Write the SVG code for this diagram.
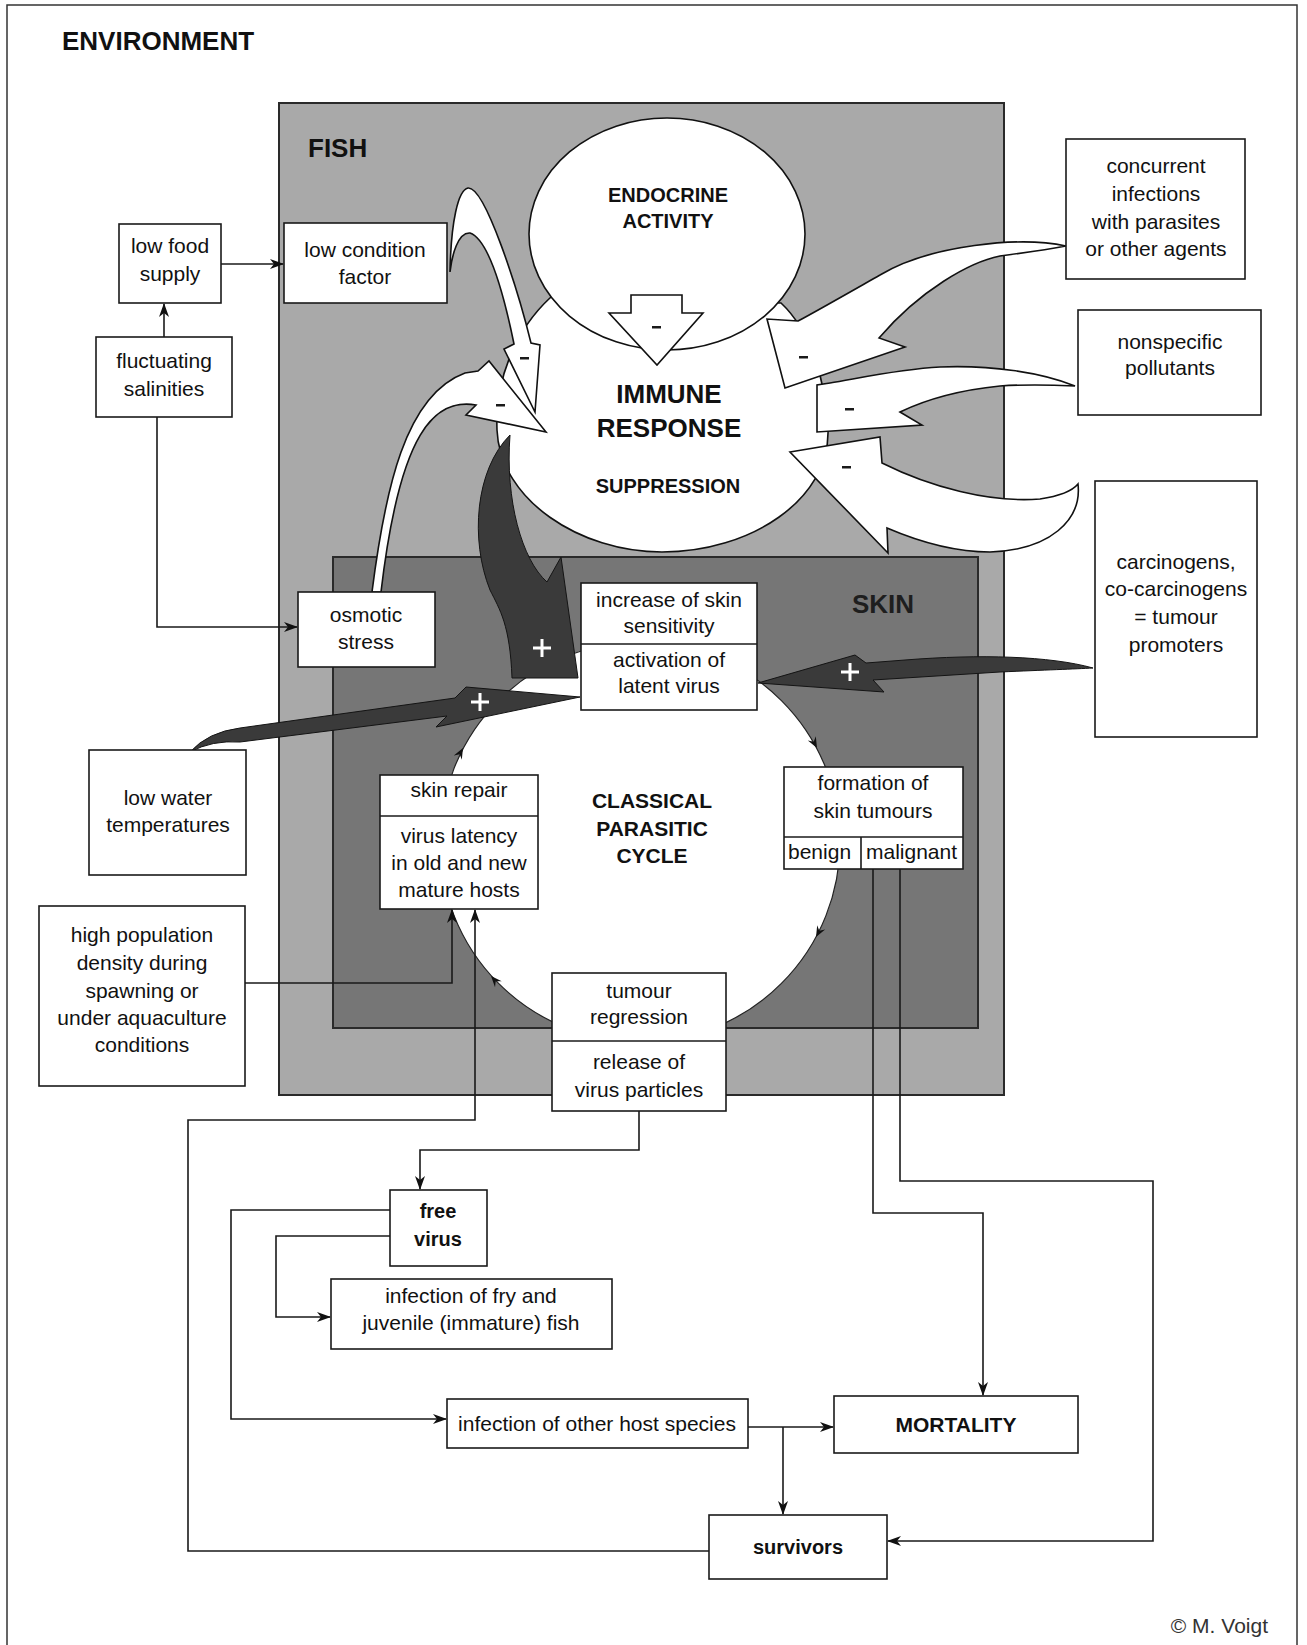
<svg xmlns="http://www.w3.org/2000/svg" width="1307" height="1645" viewBox="0 0 1307 1645">
<defs>
<style>
.box{fill:#fff;stroke:#1a1a1a;stroke-width:1.6}
.t{font-family:"Liberation Sans",Arial,Helvetica,sans-serif;font-size:21px;fill:#111;text-anchor:middle}
.b{font-family:"Liberation Sans",Arial,Helvetica,sans-serif;font-weight:bold;fill:#111;text-anchor:middle}
.wa{fill:#fff;stroke:#111;stroke-width:1.6;stroke-linejoin:miter}
.da{fill:#3a3a3a;stroke:#141414;stroke-width:1}
.ln{fill:none;stroke:#1a1a1a;stroke-width:1.6}
.ln2{fill:none;stroke:#1a1a1a;stroke-width:1.6;marker-end:url(#ah)}
.minus{fill:#1a1a1a}
.plus{stroke:#fff;stroke-width:3;fill:none}
.cyc{fill:#111}
</style>
<marker id="ah" viewBox="0 0 14 10" refX="13" refY="5" markerWidth="14" markerHeight="10" markerUnits="userSpaceOnUse" orient="auto"><path d="M0,0 L14,5 L0,10 L4,5 Z" fill="#111"/></marker>
</defs>
<rect width="1307" height="1645" fill="#fff"/>

<g id="environment">
<rect x="7" y="5" width="1290" height="1660" fill="none" stroke="#333" stroke-width="1.5"/>
<text x="62" y="50" class="b" font-size="26" style="text-anchor:start">ENVIRONMENT</text>
</g>

<g id="fish">
<rect x="279" y="103" width="725" height="992" fill="#a9a9a9" stroke="#2a2a2a" stroke-width="2"/>
<text x="308" y="157" class="b" font-size="26" style="text-anchor:start">FISH</text>
</g>

<g id="immune-response">
<path d="M551 297 C515 330 495 380 497 430 C500 500 580 552 662 552 C750 552 830 500 828 430 C826 380 810 330 781 303 Z" fill="#fff" stroke="#111" stroke-width="1.6"/>
</g>

<g id="endocrine-activity">
<ellipse cx="667" cy="234" rx="138" ry="116" fill="#fff" stroke="#111" stroke-width="1.6"/>
<text class="b" font-size="20" x="668" y="202">ENDOCRINE</text>
<text class="b" font-size="20" x="668" y="228">ACTIVITY</text>
</g>

<g id="skin">
<rect x="333" y="557" width="645" height="471" fill="#767676" stroke="#2a2a2a" stroke-width="2"/>
<text x="852" y="613" class="b" font-size="26" style="text-anchor:start;fill:#1e1e1e">SKIN</text>
</g>

<g id="classical-parasitic-cycle">
<circle cx="640" cy="842" r="200" fill="#fff" stroke="#222" stroke-width="1.2"/>
<text class="b" font-size="21" x="652" y="808">CLASSICAL</text>
<text class="b" font-size="21" x="652" y="836">PARASITIC</text>
<text class="b" font-size="21" x="652" y="863">CYCLE</text>
<path class="cyc" d="M0,0 L-11,-4.5 L-7,0 L-11,4.5 Z" transform="translate(463,748) rotate(-62)"/>
<path class="cyc" d="M0,0 L-11,-4.5 L-7,0 L-11,4.5 Z" transform="translate(817,748) rotate(62)"/>
<path class="cyc" d="M0,0 L-11,-4.5 L-7,0 L-11,4.5 Z" transform="translate(816,937) rotate(118)"/>
<path class="cyc" d="M0,0 L-11,-4.5 L-7,0 L-11,4.5 Z" transform="translate(491,976) rotate(228)"/>
</g>

<g id="influence-arrows">
<!-- endocrine -> immune -->
<path class="wa" d="M631 295 L682 295 L682 313 L703 313 L657 365 L609 313 L631 313 Z"/>
<rect class="minus" x="652" y="326" width="9" height="2.5"/>
<!-- osmotic stress -> immune -->
<path class="wa" d="M372 592 C385 490 405 395 465 373 L478 371 L489 361 L546 432 L466 415 L476 405 C435 398 400 430 381 592 Z"/>
<rect class="minus" x="496" y="404" width="9" height="2.5"/>
<!-- low condition factor -> immune -->
<path class="wa" d="M450 272 C451 222 458 190 468 188 C485 186 518 290 531 343 L540 345 L535 412 L504 349 L514 344 C505 300 490 240 470 233 C458 232 452 255 450 272 Z"/>
<rect class="minus" x="520" y="357" width="9" height="2.5"/>
<!-- concurrent infections -> immune -->
<path class="wa" d="M1066 246 C1020 236 930 245 880 275 C850 292 815 312 798 321 L767 319 L785 388 L905 347 L879 338 C920 290 970 262 1000 256 C1030 252 1050 249 1066 246 Z"/>
<rect class="minus" x="799" y="356" width="9" height="2.5"/>
<!-- nonspecific pollutants -> immune -->
<path class="wa" d="M1075 386 C1040 372 990 365 940 367 C900 369 860 378 830 383 L817 385 L817 432 L922 425 L900 412 C925 400 960 390 1000 386 C1030 384 1055 385 1075 386 Z"/>
<rect class="minus" x="845" y="408" width="9" height="2.5"/>
<!-- lower right -> immune -->
<path class="wa" d="M1078 484 C1082 520 1050 550 990 552 C950 552 915 540 887 528 L888 553 L790 452 L880 437 L882 463 C930 487 990 503 1040 499 C1060 496 1073 490 1078 484 Z"/>
<rect class="minus" x="842" y="466" width="9" height="2.5"/>
<!-- immune suppression -> activation (+) -->
<path class="da" d="M510 435 C475 470 470 540 490 590 C500 610 510 625 512 678 L578 678 L561 557 L547 582 C522 560 505 500 510 435 Z"/>
<path class="plus" d="M533 648 H551 M542 639 V657"/>
<!-- low water temperatures -> activation (+) -->
<path class="da" d="M190 752 Q208 732 240 728 L455 698 L466 687 L580 697 L436 727 L447 716 L240 742 Q212 740 190 752 Z"/>
<path class="plus" d="M471 702 H489 M480 693 V711"/>
<!-- carcinogens -> activation (+) -->
<path class="da" d="M1093 668 C1050 656 980 654 905 660 L866 663 L855 655 L758 683 L884 692 L873 680 L1000 672 C1045 670 1075 669 1093 668 Z"/>
<path class="plus" d="M841 672 H859 M850 663 V681"/>
</g>

<g id="connectors">
<path class="ln2" d="M164 337 V304"/>
<path class="ln2" d="M221 264 H283"/>
<path class="ln2" d="M157 417 V627 H297"/>
<path class="ln2" d="M245 983 H452 V910"/>
<path class="ln2" d="M709 1551 H188 V1120 H475 V910"/>
<path class="ln2" d="M639 1111 V1150 H420 V1189"/>
<path class="ln2" d="M390 1210 H231 V1419 H446"/>
<path class="ln2" d="M390 1236 H276 V1317 H330"/>
<path class="ln2" d="M748 1427 H833"/>
<path class="ln2" d="M783 1427 V1514"/>
<path class="ln2" d="M873 869 V1213 H983 V1395"/>
<path class="ln2" d="M900 869 V1181 H1153 V1541 H888"/>
</g>

<g id="immune-labels">
<text class="b" font-size="26" x="669" y="403">IMMUNE</text>
<text class="b" font-size="26" x="669" y="437">RESPONSE</text>
<text class="b" font-size="20" x="668" y="493">SUPPRESSION</text>
</g>

<g id="low-food-supply">
<rect class="box" x="119" y="224" width="102" height="79"/>
<text class="t" x="170" y="253">low food</text>
<text class="t" x="170" y="281">supply</text>
</g>
<g id="low-condition-factor">
<rect class="box" x="284" y="223" width="163" height="80"/>
<text class="t" x="365" y="257">low condition</text>
<text class="t" x="365" y="284">factor</text>
</g>
<g id="fluctuating-salinities">
<rect class="box" x="96" y="337" width="136" height="80"/>
<text class="t" x="164" y="368">fluctuating</text>
<text class="t" x="164" y="396">salinities</text>
</g>
<g id="osmotic-stress">
<rect class="box" x="298" y="592" width="137" height="75"/>
<text class="t" x="366" y="622">osmotic</text>
<text class="t" x="366" y="649">stress</text>
</g>
<g id="concurrent-infections">
<rect class="box" x="1066" y="139" width="179" height="140"/>
<text class="t" x="1156" y="173">concurrent</text>
<text class="t" x="1156" y="201">infections</text>
<text class="t" x="1156" y="229">with parasites</text>
<text class="t" x="1156" y="256">or other agents</text>
</g>
<g id="nonspecific-pollutants">
<rect class="box" x="1078" y="310" width="183" height="105"/>
<text class="t" x="1170" y="349">nonspecific</text>
<text class="t" x="1170" y="375">pollutants</text>
</g>
<g id="carcinogens">
<rect class="box" x="1095" y="481" width="162" height="256"/>
<text class="t" x="1176" y="569">carcinogens,</text>
<text class="t" x="1176" y="596">co-carcinogens</text>
<text class="t" x="1176" y="624">= tumour</text>
<text class="t" x="1176" y="652">promoters</text>
</g>
<g id="skin-sensitivity-activation">
<rect class="box" x="581" y="583" width="176" height="127"/>
<line class="ln" x1="581" y1="644" x2="757" y2="644"/>
<text class="t" x="669" y="607">increase of skin</text>
<text class="t" x="669" y="633">sensitivity</text>
<text class="t" x="669" y="667">activation of</text>
<text class="t" x="669" y="693">latent virus</text>
</g>
<g id="low-water-temperatures">
<rect class="box" x="89" y="750" width="157" height="125"/>
<text class="t" x="168" y="805">low water</text>
<text class="t" x="168" y="832">temperatures</text>
</g>
<g id="high-population-density">
<rect class="box" x="39" y="906" width="206" height="180"/>
<text class="t" x="142" y="942">high population</text>
<text class="t" x="142" y="970">density during</text>
<text class="t" x="142" y="998">spawning or</text>
<text class="t" x="142" y="1025">under aquaculture</text>
<text class="t" x="142" y="1052">conditions</text>
</g>
<g id="skin-repair-latency">
<rect class="box" x="380" y="775" width="158" height="134"/>
<line class="ln" x1="380" y1="816" x2="538" y2="816"/>
<text class="t" x="459" y="797">skin repair</text>
<text class="t" x="459" y="843">virus latency</text>
<text class="t" x="459" y="870">in old and new</text>
<text class="t" x="459" y="897">mature hosts</text>
</g>
<g id="skin-tumours">
<rect class="box" x="784" y="767" width="179" height="102"/>
<line class="ln" x1="784" y1="837" x2="963" y2="837"/>
<line class="ln" x1="861" y1="837" x2="861" y2="869"/>
<text class="t" x="873" y="790">formation of</text>
<text class="t" x="873" y="818">skin tumours</text>
<text class="t" x="788" y="859" style="text-anchor:start">benign</text>
<text class="t" x="866" y="859" style="text-anchor:start">malignant</text>
</g>
<g id="tumour-regression">
<rect class="box" x="552" y="973" width="174" height="138"/>
<line class="ln" x1="552" y1="1041" x2="726" y2="1041"/>
<text class="t" x="639" y="998">tumour</text>
<text class="t" x="639" y="1024">regression</text>
<text class="t" x="639" y="1069">release of</text>
<text class="t" x="639" y="1097">virus particles</text>
</g>
<g id="free-virus">
<rect class="box" x="390" y="1190" width="97" height="76"/>
<text class="b" font-size="20" x="438" y="1218">free</text>
<text class="b" font-size="20" x="438" y="1246">virus</text>
</g>
<g id="infection-fry">
<rect class="box" x="331" y="1279" width="281" height="70"/>
<text class="t" x="471" y="1303">infection of fry and</text>
<text class="t" x="471" y="1330">juvenile (immature) fish</text>
</g>
<g id="infection-other-hosts">
<rect class="box" x="447" y="1399" width="301" height="49"/>
<text class="t" x="597" y="1431">infection of other host species</text>
</g>
<g id="mortality">
<rect class="box" x="834" y="1396" width="244" height="57"/>
<text class="b" font-size="21" x="956" y="1432">MORTALITY</text>
</g>
<g id="survivors">
<rect class="box" x="709" y="1515" width="178" height="64"/>
<text class="b" font-size="20" x="798" y="1554">survivors</text>
</g>
<text class="t" x="1268" y="1633" font-size="18" style="text-anchor:end;fill:#333">© M. Voigt</text>
</svg>
